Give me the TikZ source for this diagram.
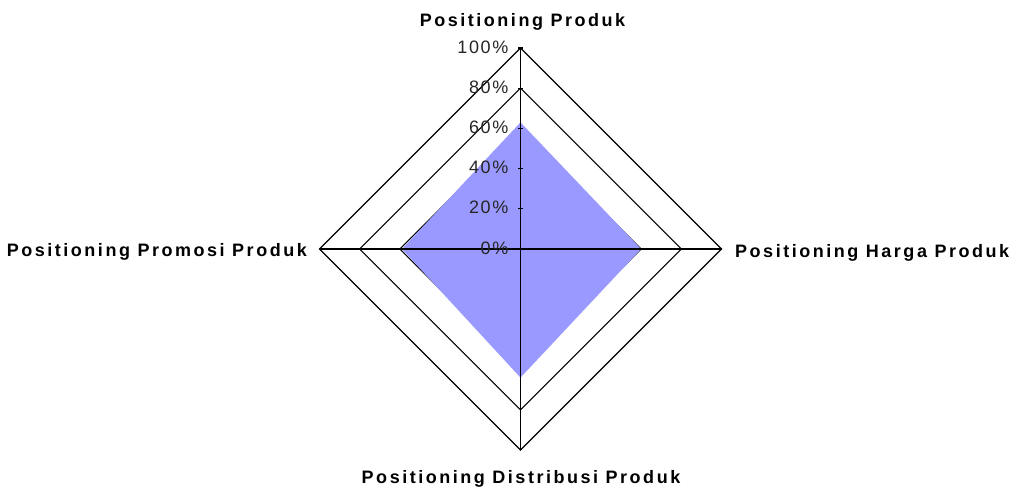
\documentclass[tikz,border=0pt]{standalone}
\usepackage{fontspec}
\newfontfamily\lab{Liberation Sans}[LetterSpace=14]
\newfontfamily\tlab{Liberation Sans}[LetterSpace=9]
\definecolor{datablue}{HTML}{9999FF}
\begin{document}
\begin{tikzpicture}[x=1pt,y=-1pt,
  ring/.style={draw=black,line width=1.1pt},
  axisline/.style={draw=black,line width=1.6pt},
  datafill/.style={fill=datablue},
  catlabel/.style={font=\lab\bfseries\fontsize{18}{21}\selectfont, inner sep=0pt, text=black},
  ticklabel/.style={font=\tlab\fontsize{18}{21}\selectfont, inner sep=0pt, anchor=east, text=black!85}]
\useasboundingbox (0,0) rectangle (1015,487);
\begin{scope}[shift={(520.5,249)}]
  \foreach \r in {40.2,80.4,120.6,160.8,201}
    \draw[ring] (0,-\r) -- (\r,0) -- (0,\r) -- (-\r,0) -- cycle;
  \fill[datafill] (0,-126.6) -- (120.6,0) -- (0,128.6) -- (-118.6,0) -- cycle;
  \coordinate (T) at (0,-201);
  \coordinate (B) at (0,201);
  \coordinate (L) at (-201,0);
  \coordinate (Rt) at (201,0);
  \draw[axisline] (T) -- (B);
  \draw[axisline] (L) -- (Rt);
  \foreach \r in {0,40.2,80.4,120.6,160.8,201}
    \draw[ring] (-2.5,-\r) -- (2.5,-\r);
  \foreach \v/\r in {0/0,20/40.2,40/80.4,60/120.6,80/160.8,100/201}
    \node[ticklabel] (tick\v) at (-12,-\r-1) {\v\%};
  \node[catlabel, anchor=base] (ptop) at (2,-222) {Positioning Produk};
  \node[catlabel, anchor=base east] (pleft) at (-213.5,7) {Positioning Promosi Produk};
  \node[catlabel, anchor=base west] (pright) at (214.5,8) {Positioning Harga Produk};
  \node[catlabel, anchor=base] (pbottom) at (0.5,234) {Positioning Distribusi Produk};
\end{scope}
\end{tikzpicture}
\end{document}
